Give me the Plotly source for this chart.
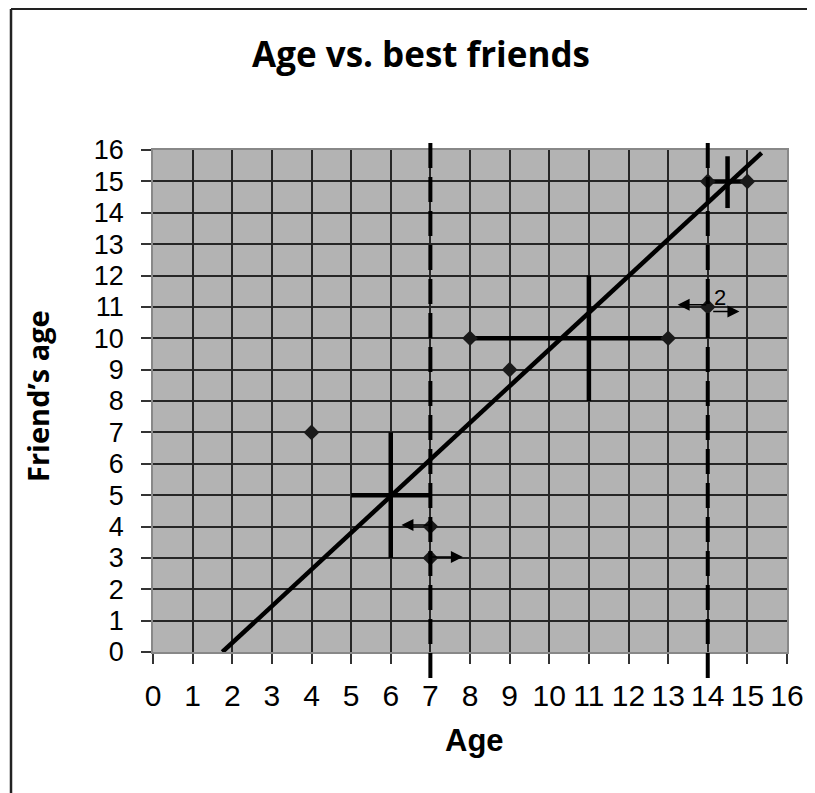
import plotly.graph_objects as go

# data
pts_x = [4, 7, 7, 8, 9, 13, 14, 15, 14]
pts_y = [7, 4, 3, 10, 9, 10, 15, 15, 11]

# crosses: centre, x-range, y-range
cross_cx = [6, 11, 14.5]
cross_cy = [5, 10, 15]
cross_x0 = [5, 8, 14]
cross_x1 = [7, 13, 15]
cross_y0 = [3, 8, 14.15]
cross_y1 = [7, 12, 15.8]

fit_x = [1.75, 15.36]
fit_y = [0, 15.91]

dash_x = [7, 14]

# arrows: tail -> head
arr_tx = [7, 7, 14, 14.1]
arr_ty = [4.05, 3.03, 11.07, 10.85]
arr_hx = [6.27, 7.82, 13.24, 14.8]
arr_hy = [4.05, 3.03, 11.07, 10.85]

ticks = list(range(0, 17))
tick_text = [str(t) for t in ticks]

fig = go.Figure()

for cx, cy, x0, x1, y0, y1 in zip(cross_cx, cross_cy, cross_x0, cross_x1, cross_y0, cross_y1):
    fig.add_trace(go.Scatter(x=[x0, x1], y=[cy, cy], mode="lines",
                             line=dict(color="black", width=4.5), showlegend=False, hoverinfo="skip"))
    fig.add_trace(go.Scatter(x=[cx, cx], y=[y0, y1], mode="lines",
                             line=dict(color="black", width=4.5), showlegend=False, hoverinfo="skip"))

fig.add_trace(go.Scatter(x=fit_x, y=fit_y, mode="lines",
                         line=dict(color="black", width=4.5), showlegend=False, hoverinfo="skip"))

fig.add_trace(go.Scatter(x=pts_x, y=pts_y, mode="markers",
                         marker=dict(symbol="diamond", size=12, color="#1a1a1a"),
                         showlegend=False))

# page body has an 8px offset; figure laid out accordingly
W, H = 807, 785
ml, mr, mt, mb = 145, 28, 142, 141
pw, ph = W - ml - mr, H - mt - mb


def px(x):
    return (x - ml) / pw


def py(y):
    return (H - mb - y) / ph


for dx in dash_x:
    fig.add_shape(type="line", xref="x", yref="paper", x0=dx, x1=dx, y0=py(670), y1=py(135),
                  line=dict(color="black", width=4, dash="25px,9px"), layer="above")

for tx, ty, hx, hy in zip(arr_tx, arr_ty, arr_hx, arr_hy):
    fig.add_annotation(x=hx, y=hy, ax=tx, ay=ty, xref="x", yref="y", axref="x", ayref="y",
                       text="", showarrow=True, arrowhead=2, arrowsize=1.6, arrowwidth=1.5,
                       arrowcolor="black")

fig.add_annotation(x=14.3, y=11.3, xref="x", yref="y", text="2", showarrow=False,
                   font=dict(family="Liberation Sans, Arial", size=22, color="black"))

# axis titles
fig.add_annotation(x=px(466), y=py(732), xref="paper", yref="paper", text="<b>Age</b>",
                   showarrow=False, xanchor="center", yanchor="middle",
                   font=dict(family="Liberation Sans, Arial", size=31, color="black"))
fig.add_annotation(x=px(29), y=py(388), xref="paper", yref="paper", text="<b>Friend’s age</b>",
                   showarrow=False, xanchor="center", yanchor="middle", textangle=-90,
                   font=dict(family="Open Sans, sans-serif", size=29, color="black"))

# outer frame (top and left)
fig.add_shape(type="line", xref="paper", yref="paper", x0=px(3), x1=px(W), y0=py(1), y1=py(1),
              line=dict(color="#222", width=2))
fig.add_shape(type="line", xref="paper", yref="paper", x0=px(3), x1=px(3), y0=py(1), y1=py(H),
              line=dict(color="#222", width=2.5))

axis_common = dict(range=[0, 16], tickvals=ticks, ticktext=tick_text,
                   showgrid=True, gridcolor="#262626", gridwidth=1.8,
                   ticks="outside", ticklen=10, tickcolor="#333", tickwidth=1.5,
                   showline=True, linecolor="#888", linewidth=1.5, mirror=True,
                   zeroline=False)

fig.update_layout(
    width=W, height=H,
    margin=dict(l=ml, r=mr, t=mt, b=mb),
    paper_bgcolor="white",
    plot_bgcolor="#b3b3b3",
    title=dict(text="<b>Age vs. best friends</b>", x=413 / W, xanchor="center",
               y=1 - 47 / H, yanchor="middle",
               font=dict(family="Open Sans, sans-serif", size=35, color="black")),
    xaxis=dict(**axis_common, ticklabelstandoff=6,
               tickfont=dict(family="Liberation Sans, Arial", size=30, color="black")),
    yaxis=dict(**axis_common, ticklabelstandoff=12,
               tickfont=dict(family="Liberation Sans, Arial", size=27, color="black")),
)

fig.write_html("out.html")
